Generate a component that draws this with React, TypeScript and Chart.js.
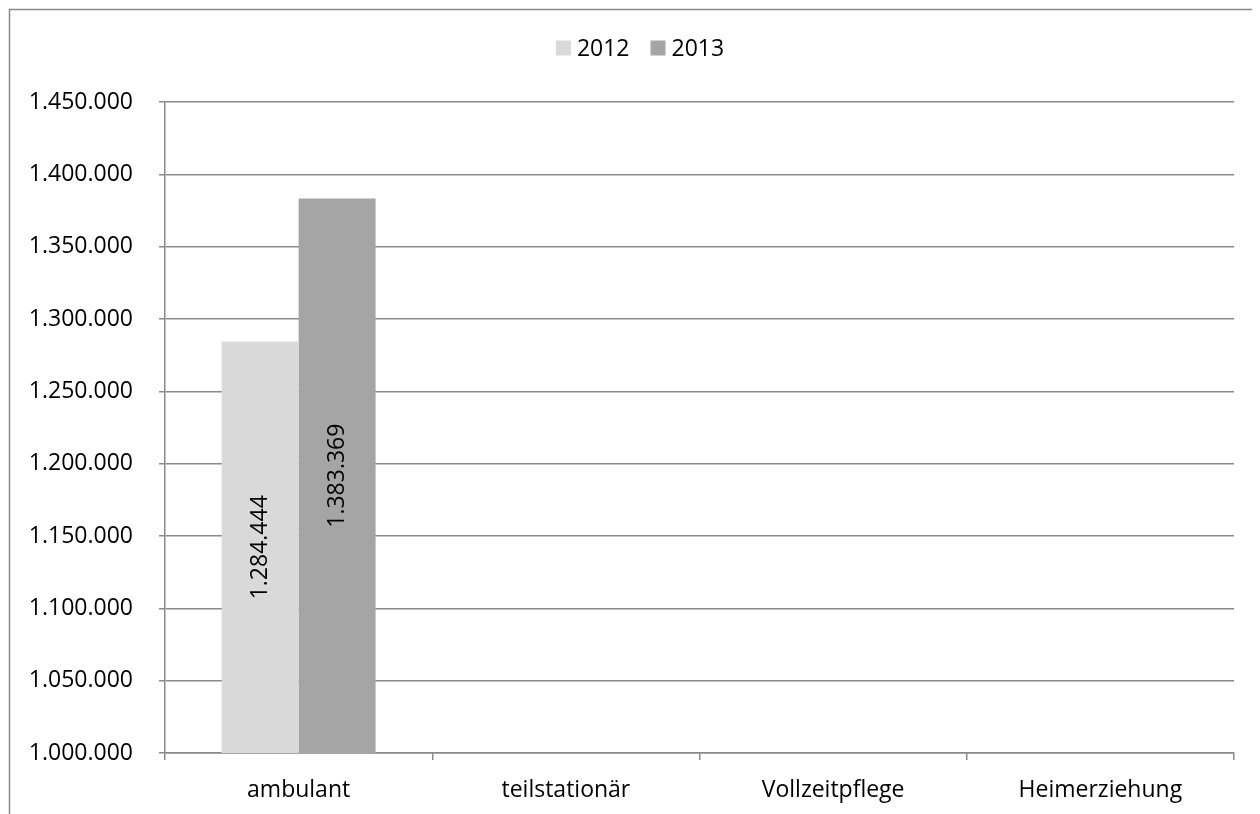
import React, { useEffect, useRef } from "react";
import { Chart, registerables } from "chart.js";

Chart.register(...registerables);

const categories = ["ambulant", "teilstationär", "Vollzeitpflege", "Heimerziehung"];
const seriesNames = ["2012", "2013"];
const values2012: (number | null)[] = [1284444, null, null, null];
const values2013: (number | null)[] = [1383369, null, null, null];
const seriesColors = ["#d9d9d9", "#a5a5a5"];
const yMin = 1000000;
const yMax = 1450000;
const yStep = 50000;

const FONT = "'Open Sans', 'Noto Sans', sans-serif";
const GRID = "#898989";

function fmt(v: number): string {
  return Math.round(v).toString().replace(/\B(?=(\d{3})+(?!\d))/g, ".");
}

const decorPlugin = {
  id: "decor",
  beforeDraw(chart: any) {
    const ctx = chart.ctx;
    ctx.save();
    ctx.strokeStyle = GRID;
    ctx.lineWidth = 1.5;
    ctx.beginPath();
    ctx.moveTo(1.5, chart.height + 10);
    ctx.lineTo(1.5, 1.5);
    ctx.lineTo(chart.width + 10, 1.5);
    ctx.stroke();
    ctx.restore();
  },
  afterDraw(chart: any) {
    const ctx = chart.ctx;
    // value labels centred inside bars
    ctx.save();
    ctx.font = `23px ${FONT}`;
    ctx.fillStyle = "#000000";
    ctx.textAlign = "center";
    ctx.textBaseline = "middle";
    const yScale = chart.scales.y;
    const base = yScale.getPixelForValue(yMin);
    chart.data.datasets.forEach((ds: any, di: number) => {
      const meta = chart.getDatasetMeta(di);
      meta.data.forEach((bar: any, i: number) => {
        const v = ds.data[i];
        if (v === null || v === undefined) return;
        const top = yScale.getPixelForValue(v);
        const cy = (top + base) / 2;
        ctx.save();
        ctx.translate(bar.x, cy);
        ctx.rotate(-Math.PI / 2);
        ctx.fillText(fmt(v), 0, 0);
        ctx.restore();
      });
    });
    ctx.restore();

    // legend
    ctx.save();
    ctx.font = `23px ${FONT}`;
    ctx.textBaseline = "middle";
    ctx.textAlign = "left";
    const box = 15;
    const gap = 6;
    const between = 21;
    const widths = seriesNames.map((n) => ctx.measureText(n).width);
    let total = 0;
    widths.forEach((w, i) => {
      total += box + gap + w + (i < widths.length - 1 ? between : 0);
    });
    let x = chart.width / 2 + 6 - total / 2;
    const cy = 40;
    seriesNames.forEach((n, i) => {
      ctx.fillStyle = seriesColors[i];
      ctx.fillRect(x, cy - box / 2, box, box);
      x += box + gap;
      ctx.fillStyle = "#000";
      ctx.fillText(n, x, cy + 1);
      x += widths[i] + between;
    });
    ctx.restore();
  },
};

export default function App() {
  const ref = useRef<HTMLCanvasElement | null>(null);
  useEffect(() => {
    if (!ref.current) return;
    const chart = new Chart(ref.current, {
      type: "bar",
      data: {
        labels: categories,
        datasets: [
          { label: seriesNames[0], data: values2012, backgroundColor: seriesColors[0], categoryPercentage: 0.576, barPercentage: 1 },
          { label: seriesNames[1], data: values2013, backgroundColor: seriesColors[1], categoryPercentage: 0.576, barPercentage: 1 },
        ],
      },
      options: {
        animation: false,
        responsive: false,
        layout: { padding: { top: 94, right: 26, left: 0, bottom: 0 } },
        plugins: {
          legend: { display: false },
          tooltip: { enabled: false },
        },
        scales: {
          x: {
            offset: true,
            grid: { display: true, drawOnChartArea: false, drawTicks: true, tickLength: 7, offset: true, color: GRID, lineWidth: 1.5 },
            border: { display: true, color: GRID, width: 1.5 },
            ticks: { color: "#000", font: { family: FONT, size: 23 }, padding: 17, maxRotation: 0 },
            afterFit: (s: any) => { s.height = 61; },
          },
          y: {
            min: yMin,
            max: yMax,
            grid: { color: GRID, lineWidth: 1.5, tickLength: 6, drawTicks: true },
            border: { display: true, color: GRID, width: 1.5 },
            ticks: {
              stepSize: yStep,
              color: "#000",
              font: { family: FONT, size: 23 },
              padding: 26,
              callback: (v: any) => fmt(Number(v)),
            },
            afterFit: (s: any) => { s.width = 157; },
          },
        },
      },
      plugins: [decorPlugin],
    });
    return () => chart.destroy();
  }, []);
  return (
    <div style={{ width: 1252, height: 806 }}>
      <canvas ref={ref} width={1252} height={806} style={{ display: "block" }} />
    </div>
  );
}
